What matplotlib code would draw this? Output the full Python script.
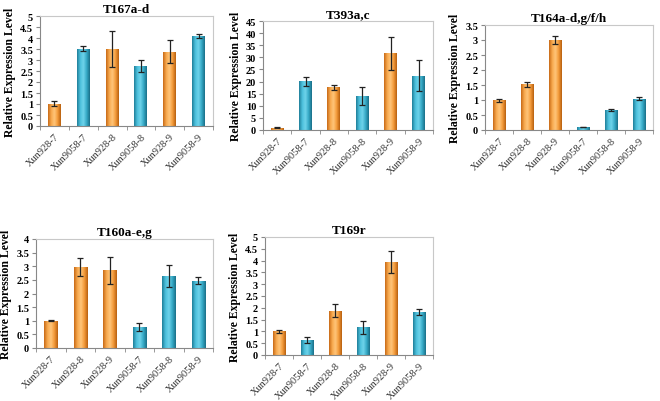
import numpy as np
import matplotlib
matplotlib.use("Agg")
import matplotlib.pyplot as plt
from matplotlib.colors import LinearSegmentedColormap

plt.rcParams['font.family'] = ['Liberation Serif', 'DejaVu Serif']

# ---- data ----
titles = ["T167a-d", "T393a,c", "T164a-d,g/f/h", "T160a-e,g", "T169r"]

cats1 = ["Xun928-7", "Xun9058-7", "Xun928-8", "Xun9058-8", "Xun928-9", "Xun9058-9"]
vals1 = [1.02, 3.52, 3.5, 2.72, 3.38, 4.08]
errs1 = [0.1, 0.12, 0.82, 0.28, 0.52, 0.1]

cats2 = ["Xun928-7", "Xun9058-7", "Xun928-8", "Xun9058-8", "Xun928-9", "Xun9058-9"]
vals2 = [1.0, 20.1, 17.6, 14.0, 31.7, 22.5]
errs2 = [0.2, 1.9, 1.1, 3.6, 6.8, 6.4]

cats3 = ["Xun928-7", "Xun928-8", "Xun928-9", "Xun9058-7", "Xun9058-8", "Xun9058-9"]
vals3 = [1.0, 1.53, 3.0, 0.1, 0.68, 1.05]
errs3 = [0.05, 0.08, 0.13, 0.01, 0.03, 0.05]

cats4 = ["Xun928-7", "Xun928-8", "Xun928-9", "Xun9058-7", "Xun9058-8", "Xun9058-9"]
vals4 = [1.0, 2.98, 2.85, 0.78, 2.63, 2.47]
errs4 = [0.02, 0.34, 0.5, 0.15, 0.4, 0.13]

cats5 = ["Xun928-7", "Xun9058-7", "Xun928-8", "Xun9058-8", "Xun928-9", "Xun9058-9"]
vals5 = [1.0, 0.62, 1.87, 1.18, 3.93, 1.83]
errs5 = [0.08, 0.13, 0.27, 0.28, 0.47, 0.12]

ymaxes = [5, 45, 3.5, 4, 5]
ysteps = [0.5, 5, 0.5, 0.5, 0.5]

panels = [(cats1, vals1, errs1), (cats2, vals2, errs2), (cats3, vals3, errs3),
          (cats4, vals4, errs4), (cats5, vals5, errs5)]

# axes rectangles in pixel coords (left, top, right, bottom)
W, H = 660, 402
rects_px = [(40, 17, 213, 127), (263, 22, 433, 131), (485, 26, 653, 131),
            (36, 240, 213, 349), (265, 238, 433, 356)]

orange_cmap = LinearSegmentedColormap.from_list(
    "o", ["#c86a17", "#f7a94e", "#ffc57a", "#f39a3a", "#b8600f"])
teal_cmap = LinearSegmentedColormap.from_list(
    "t", ["#1f7f99", "#4cc0dc", "#6fd3ea", "#35a9c6", "#1a6f88"])

fig = plt.figure(figsize=(W / 100, H / 100), dpi=100)
grad = np.linspace(0, 1, 64).reshape(1, -1)

for (cats, vals, errs), title, ymax, ystep, (l, t, r, b) in zip(panels, titles, ymaxes, ysteps, rects_px):
    ax = fig.add_axes([l / W, 1 - b / H, (r - l) / W, (b - t) / H])
    x = np.arange(len(cats))
    width = 0.45
    bars = ax.bar(x, vals, width=width, color="none", edgecolor="none", zorder=2)
    for bar, c in zip(bars, cats):
        cmap = orange_cmap if c.startswith("Xun928-") else teal_cmap
        bx, bw, bh = bar.get_x(), bar.get_width(), bar.get_height()
        im = ax.imshow(grad, cmap=cmap, aspect="auto",
                       extent=(bx, bx + bw, 0, bh), zorder=2, interpolation="bilinear")
        im.set_clip_path(bar)
    ax.errorbar(x, vals, yerr=errs, fmt="none", ecolor="#222222", elinewidth=0.9,
                capsize=2.2, capthick=0.9, zorder=3)
    ax.set_xlim(-0.5, len(cats) - 0.5)
    ax.set_ylim(0, ymax)
    ax.set_yticks(np.arange(0, ymax + ystep / 2, ystep))
    ax.set_yticklabels([f"{v:g}" for v in np.arange(0, ymax + ystep / 2, ystep)],
                       fontsize=7.5, fontweight="bold")
    ax.set_xticks(x)
    ax.set_xticklabels(cats, rotation=45, ha="right", rotation_mode="anchor",
                       fontsize=7.5, color="#333333")
    ax.set_xticks(np.arange(-0.5, len(cats)), minor=True)
    ax.tick_params(axis="x", which="major", length=0, pad=4)
    ax.tick_params(axis="x", which="minor", length=3, color="#888888")
    ax.tick_params(axis="y", length=3, color="#888888", pad=2)
    for s in ["top", "right"]:
        ax.spines[s].set_color("#c8c8c8")
        ax.spines[s].set_linewidth(0.8)
    for s in ["left", "bottom"]:
        ax.spines[s].set_color("#888888")
        ax.spines[s].set_linewidth(0.8)
    ax.set_title(title, fontsize=9.5, fontweight="bold", pad=3)
    ax.set_ylabel("Relative Expression Level", fontsize=8.5, fontweight="bold", labelpad=3)

fig.savefig("out.png", dpi=100)
